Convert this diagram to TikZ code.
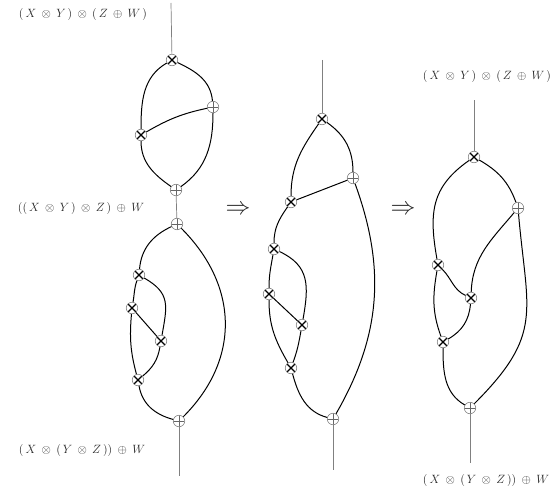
\documentclass[tikz,border=0pt]{standalone}
\usepackage{amsmath}
\begin{document}
\begin{tikzpicture}[x=1pt,y=1pt,
  ot/.style={circle, draw=gray, line width=0.6pt, minimum size=11.5pt, inner sep=0pt, fill=white,
    path picture={\draw[black, line width=1.1pt] (path picture bounding box.north west) -- (path picture bounding box.south east)
      (path picture bounding box.north east) -- (path picture bounding box.south west);}},
  op/.style={circle, draw=gray, line width=0.6pt, minimum size=11.5pt, inner sep=0pt, fill=white,
    path picture={\draw[black!60, line width=0.7pt] (path picture bounding box.north) -- (path picture bounding box.south)
      (path picture bounding box.east) -- (path picture bounding box.west);}},
  wire/.style={draw=black, line width=1pt},
  stem/.style={draw=gray, line width=0.7pt},
  lab/.style={font=\fontsize{12}{14}\selectfont, text=black!85, inner sep=0pt},
  imp/.style={font=\fontsize{25}{25}\selectfont, text=black!85, inner sep=0pt}
]
\useasboundingbox (0,0) rectangle (554,-495);

% labels
\node[lab] (t1) at (83,-15) {$\medmuskip=8mu(\,X\otimes Y\,)\otimes(\,Z\oplus W\,)$};
\node[lab] (t2) at (81,-208) {$\medmuskip=8mu((\,X\otimes Y\,)\otimes Z\,)\oplus W$};
\node[lab] (t3) at (82,-450) {$\medmuskip=8mu(\,X\otimes(\,Y\otimes Z\,))\oplus W$};
\node[lab] (t4) at (487,-77) {$\medmuskip=8mu(\,X\otimes Y\,)\otimes(\,Z\oplus W\,)$};
\node[lab] (t5) at (486,-480) {$\medmuskip=8mu(\,X\otimes(\,Y\otimes Z\,))\oplus W$};
\node[imp] (a1) at (238,-210) {$\Rightarrow$};
\node[imp] (a2) at (403,-210) {$\Rightarrow$};

% diagram 1
\coordinate (c1top) at (171,-3);
\coordinate (c1bot) at (179,-476);
\node[ot] (A) at (172,-60) {};
\node[op] (B) at (213,-107) {};
\node[ot] (C) at (141,-135) {};
\node[op] (D) at (176,-190) {};
\node[op] (E) at (177,-224) {};
\node[ot] (F) at (139,-275) {};
\node[ot] (G) at (132,-308) {};
\node[ot] (H) at (161,-341) {};
\node[ot] (I) at (138,-380) {};
\node[op] (J) at (179,-421) {};
\draw[stem] (c1top) -- (A);
\draw[wire] (A) to[out=-25,in=95] (B);
\draw[wire] (A) to[out=210,in=90] (C);
\draw[wire] (C) to[out=-90,in=145] (D);
\draw[wire] (B) to[out=-90,in=35] (D);
\draw[wire] (C) to[out=30,in=192] (B);
\draw[stem] (D) -- (E);
\draw[wire] (E) to[out=205,in=85] (F);
\draw[wire] (E) to[out=-45,in=45,looseness=1.1] (J);
\draw[wire] (F) to[out=-30,in=80,looseness=1.3] (H);
\draw[wire] (F) to[out=-110,in=80] (G);
\draw[wire] (G) -- (H);
\draw[wire] (G) to[out=-95,in=105] (I);
\draw[wire] (H) to[out=-100,in=40] (I);
\draw[wire] (I) to[out=-80,in=165] (J);
\draw[stem] (J) -- (c1bot);

% diagram 2
\coordinate (c2top) at (322,-60);
\coordinate (c2bot) at (333,-470);
\node[ot] (K) at (322,-119) {};
\node[op] (L) at (353,-178) {};
\node[ot] (M) at (291,-202) {};
\node[ot] (N) at (274,-249) {};
\node[ot] (O) at (269,-294) {};
\node[ot] (P) at (302,-325) {};
\node[ot] (Q) at (291,-368) {};
\node[op] (R) at (333,-419) {};
\draw[stem] (c2top) -- (K);
\draw[wire] (K) to[out=-35,in=90] (L);
\draw[wire] (K) to[out=235,in=90] (M);
\draw[wire] (M) -- (L);
\draw[wire] (M) to[out=-125,in=90] (N);
\draw[wire] (N) to[out=-25,in=80,looseness=1.2] (P);
\draw[wire] (N) to[out=-100,in=90] (O);
\draw[wire] (O) -- (P);
\draw[wire] (O) to[out=-90,in=120] (Q);
\draw[wire] (P) to[out=-100,in=70] (Q);
\draw[wire] (Q) to[out=-75,in=165] (R);
\draw[wire] (L) to[out=-70,in=60] (R);
\draw[stem] (R) -- (c2bot);

% diagram 3
\coordinate (c3top) at (474,-100);
\coordinate (c3bot) at (470,-463);
\node[ot] (S) at (474,-157) {};
\node[op] (T) at (518,-208) {};
\node[ot] (U) at (438,-265) {};
\node[ot] (V) at (471,-298) {};
\node[ot] (Wn) at (443,-342) {};
\node[op] (Xn) at (470,-408) {};
\draw[stem] (c3top) -- (S);
\draw[wire] (S) to[out=-30,in=110] (T);
\draw[wire] (S) to[out=215,in=100,looseness=1.15] (U);
\draw[wire] (U) to[out=-45,in=155] (V);
\draw[wire] (T) to[out=230,in=88] (V);
\draw[wire] (U) to[out=-100,in=110] (Wn);
\draw[wire] (V) to[out=-95,in=30] (Wn);
\draw[wire] (Wn) to[out=-90,in=150] (Xn);
\draw[wire] (T) to[out=-85,in=45,looseness=1.3] (Xn);
\draw[stem] (Xn) -- (c3bot);
\end{tikzpicture}
\end{document}
